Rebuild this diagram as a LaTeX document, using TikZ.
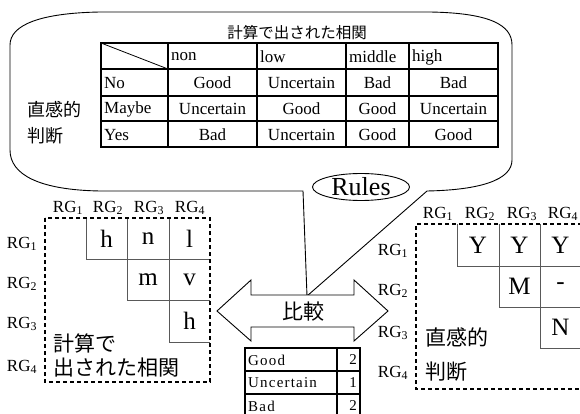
\documentclass[tikz,border=0pt]{standalone}
\usepackage{fontspec}
\setmainfont{Liberation Serif}
\newfontfamily\jp{Noto Sans CJK JP}
\newfontfamily\spc[LetterSpace=8]{Liberation Serif}
\usetikzlibrary{shapes.geometric}
\tikzset{
  tbl/.style={line width=2pt},
  cellt/.style={inner sep=0pt, font=\fontsize{17}{17}\selectfont},
  lft/.style={cellt, anchor=west},
  grid/.style={line width=0.9pt, draw=black!65},
  dbox/.style={line width=1.3pt, dash pattern=on 4pt off 3pt},
  big/.style={inner sep=0pt, font=\fontsize{25}{25}\selectfont},
  rg/.style={inner sep=0pt, font=\fontsize{17}{17}\selectfont},
  jpl/.style={inner sep=0pt, anchor=west, font=\jp\fontsize{21}{21}\selectfont},
  small/.style={inner sep=0pt, font=\spc\fontsize{15}{15}\selectfont}
}
\newcommand{\RG}[1]{RG\textsubscript{#1}}
\begin{document}
\begin{tikzpicture}[x=1pt,y=-1pt]
\useasboundingbox (0,0) rectangle (580,414);
% callout
\draw[line width=0.9pt] (10,150) -- (10,45) .. controls (10,25) and (40,13) .. (100,12) -- (430,12) .. controls (490,13) and (512,25) .. (512,45) -- (512,160) .. controls (512,180) and (480,190) .. (427,191) -- (307,296) -- (303,191) -- (100,191) .. controls (40,190) and (10,175) .. (10,150) -- cycle;
% title
\node[inner sep=0pt, font=\jp\fontsize{15.5}{15.5}\selectfont] (title) at (297,33) {計算で出された相関};
\node[inner sep=0pt, anchor=west, font=\jp\fontsize{18}{18}\selectfont] (ja1) at (27,110) {直感的};
\node[inner sep=0pt, anchor=west, font=\jp\fontsize{18}{18}\selectfont] (ja2) at (27,136) {判断};
% main table
\draw[tbl] (101,43) rectangle (498,147);
\foreach \x in {168,257,346,409} \draw[tbl] (\x,43) -- (\x,147);
\foreach \y in {69,96,121} \draw[tbl] (101,\y) -- (498,\y);
\draw[line width=0.8pt] (101,43) -- (168,69);
\node[lft] (hnon) at (171,57) {non};
\node[lft] (hlow) at (260,57) {low};
\node[lft] (hmid) at (349,57) {middle};
\node[lft] (hhigh) at (412,57) {high};
\node[lft] (rno) at (104,83) {No};
\node[lft] (rmay) at (104,109) {Maybe};
\node[lft] (ryes) at (104,135) {Yes};
\node[cellt] (c11) at (212.5,83) {Good};
\node[cellt] (c12) at (301.5,83) {Uncertain};
\node[cellt] (c13) at (377.5,83) {Bad};
\node[cellt] (c14) at (453.5,83) {Bad};
\node[cellt] (c21) at (212.5,109) {Uncertain};
\node[cellt] (c22) at (301.5,109) {Good};
\node[cellt] (c23) at (377.5,109) {Good};
\node[cellt] (c24) at (453.5,109) {Uncertain};
\node[cellt] (c31) at (212.5,135) {Bad};
\node[cellt] (c32) at (301.5,135) {Uncertain};
\node[cellt] (c33) at (377.5,135) {Good};
\node[cellt] (c34) at (453.5,135) {Good};
% Rules
\node[ellipse, draw, line width=0.9pt, fill=white, minimum width=97pt, minimum height=27pt, inner sep=0pt, font=\fontsize{26}{26}\selectfont] (rules) at (361,187) {Rules};
% double arrow
\draw[line width=0.9pt, fill=white] (217,311) -- (251,280) -- (251,295) -- (354,295) -- (354,280) -- (388,311) -- (354,341) -- (354,327) -- (251,327) -- (251,341) -- cycle;
\node[inner sep=0pt, font=\jp\fontsize{21}{21}\selectfont] (hikaku) at (303,312) {比較};
% small table
\draw[line width=1.5pt] (245,417) -- (245,348) -- (360,348) -- (360,417);
\draw[line width=1.5pt] (337,348) -- (337,417);
\draw[line width=1.5pt] (245,371) -- (360,371);
\draw[line width=1.5pt] (245,394) -- (360,394);
\node[small, anchor=west] (sg) at (248,360) {Good};
\node[small, anchor=west] (su) at (248,383) {Uncertain};
\node[small, anchor=west] (sb) at (248,406) {Bad};
\node[small, anchor=east] (ng) at (357,360) {2};
\node[small, anchor=east] (nu) at (357,383) {1};
\node[small, anchor=east] (nb) at (357,406) {2};
% left matrix
\draw[grid] (86,218) -- (86,259) -- (210,259);
\draw[grid] (127,218) -- (127,300) -- (210,300);
\draw[grid] (169,218) -- (169,342) -- (210,342);
\draw[dbox] (45,218) rectangle (210,382);
\node[big] (lh1) at (106.5,239) {h};
\node[big] (ln1) at (148,239) {n};
\node[big] (ll1) at (189.5,239) {l};
\node[big] (lm2) at (148,280) {m};
\node[big] (lv2) at (189.5,280) {v};
\node[big] (lh3) at (189.5,321) {h};
\node[rg] (lc1) at (68,208) {\RG{1}};
\node[rg] (lc2) at (108,208) {\RG{2}};
\node[rg] (lc3) at (149,208) {\RG{3}};
\node[rg] (lc4) at (190,208) {\RG{4}};
\node[rg] (lr1) at (22,244) {\RG{1}};
\node[rg] (lr2) at (22,284) {\RG{2}};
\node[rg] (lr3) at (22,324) {\RG{3}};
\node[rg] (lr4) at (22,367) {\RG{4}};
\node[jpl] (lj1) at (53,343) {計算で};
\node[jpl] (lj2) at (53,368) {出された相関};
% right matrix
\draw[grid] (457,224) -- (457,266) -- (582,266);
\draw[grid] (499,224) -- (499,307) -- (582,307);
\draw[grid] (540,224) -- (540,348) -- (582,348);
\draw[dbox] (582,224) -- (416,224) -- (416,389) -- (582,389);
\node[big] (rY1) at (478,245) {Y};
\node[big] (rY2) at (519.5,245) {Y};
\node[big] (rY3) at (560.5,245) {Y};
\node[big] (rM) at (519.5,286.5) {M};
\node[big] (rD) at (560.5,286.5) {-};
\node[big] (rN) at (560.5,327.5) {N};
\node[rg] (rc1) at (438,214) {\RG{1}};
\node[rg] (rc2) at (480,214) {\RG{2}};
\node[rg] (rc3) at (522,214) {\RG{3}};
\node[rg] (rc4) at (563,214) {\RG{4}};
\node[rg] (rr1) at (393,251) {\RG{1}};
\node[rg] (rr2) at (393,291) {\RG{2}};
\node[rg] (rr3) at (393,333) {\RG{3}};
\node[rg] (rr4) at (393,373) {\RG{4}};
\node[jpl] (rj1) at (425,337) {直感的};
\node[jpl] (rj2) at (425,372) {判断};
\end{tikzpicture}
\end{document}
